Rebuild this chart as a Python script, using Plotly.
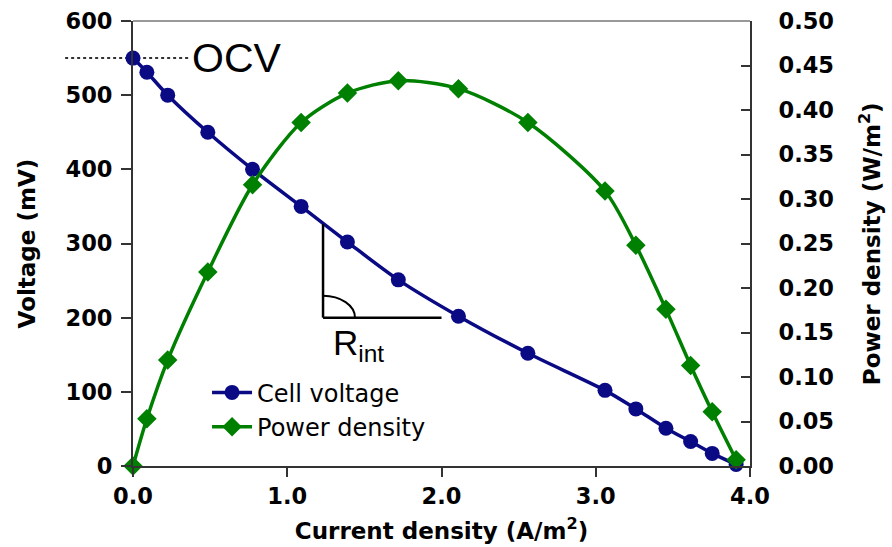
import plotly.graph_objects as go

# ---- data ----
current = [0.0, 0.09, 0.225, 0.485, 0.775, 1.09, 1.39, 1.72, 2.11, 2.56, 3.06, 3.26, 3.455, 3.615, 3.755, 3.91]
voltage_mV = [550, 531, 500, 450, 400, 350, 302, 251, 202, 152, 102, 77, 51, 33, 17, 2]
power_Wm2 = [0.0, 0.053, 0.119, 0.218, 0.316, 0.386, 0.419, 0.433, 0.424, 0.386, 0.309, 0.248, 0.176, 0.113, 0.061, 0.007]

x_ticks = [0, 1, 2, 3, 4]
y_ticks = [0, 100, 200, 300, 400, 500, 600]
y2_ticks = [round(i * 0.05, 2) for i in range(11)]

OCV_mV = 550
X_RANGE = [0, 4]
Y_RANGE = [0, 600]
Y2_RANGE = [0, 0.5]

# R_int triangle (annotation)
tri_x0, tri_x1 = 1.232, 2.0
tri_y0, tri_y1 = 200, 326

NAVY = "#0a0a84"
GREEN = "#008000"
FONT = "DejaVu Sans"

fig = go.Figure()

fig.add_trace(go.Scatter(
    x=current, y=voltage_mV, name="Cell voltage", mode="lines+markers",
    line=dict(color=NAVY, width=3.5, shape="spline", smoothing=0.8),
    marker=dict(symbol="circle", size=15, color=NAVY),
    cliponaxis=False, yaxis="y"))

fig.add_trace(go.Scatter(
    x=current, y=power_Wm2, name="Power density", mode="lines+markers",
    line=dict(color=GREEN, width=3.5, shape="spline", smoothing=0.8),
    marker=dict(symbol="diamond", size=15, color=GREEN),
    cliponaxis=False, yaxis="y2"))

tickfont = dict(family=FONT, size=22.5, color="black", weight="bold")
titlefont = dict(family=FONT, size=23, color="black", weight="bold")

fig.update_layout(
    width=892, height=547,
    margin=dict(l=133, r=142, t=21, b=81),
    paper_bgcolor="white", plot_bgcolor="white",
    showlegend=True,
    legend=dict(x=0.12, y=0.215, xanchor="left", yanchor="top",
                bgcolor="rgba(0,0,0,0)",
                font=dict(family=FONT, size=24, color="black"),
                itemwidth=40),
    xaxis=dict(range=X_RANGE, tickvals=x_ticks, tickformat=".1f",
               ticks="outside", ticklen=9, tickwidth=1.5, tickcolor="#333",
               showline=True, linecolor="#333", linewidth=2, automargin=False,
               showgrid=False, zeroline=False, tickfont=tickfont,
               title=dict(text="Current density (A/m<sup>2</sup>)", font=titlefont)),
    yaxis=dict(range=Y_RANGE, tickvals=y_ticks,
               ticks="outside", ticklen=10, tickwidth=1.5, tickcolor="#333",
               showline=True, linecolor="#333", linewidth=2, automargin=False,
               showgrid=False, zeroline=False, tickfont=tickfont,
               ticklabelstandoff=4),
    yaxis2=dict(range=Y2_RANGE, tickvals=y2_ticks, tickformat=".2f",
                overlaying="y", side="right",
                ticks="inside", ticklen=9, tickwidth=1.5, tickcolor="#333",
                showline=True, linecolor="#333", linewidth=2, automargin=False,
                showgrid=False, zeroline=False, tickfont=tickfont,
                ticklabelstandoff=22),
)

# y-axis titles placed as rotated annotations
fig.add_annotation(x=-0.172, y=0.5, xref="paper", yref="paper", text="Voltage (mV)",
                   textangle=-90, showarrow=False, xanchor="center", yanchor="middle",
                   font=titlefont)
fig.add_annotation(x=1.194, y=0.5, xref="paper", yref="paper",
                   text="Power density (W/m<sup>2</sup>)",
                   textangle=-90, showarrow=False, xanchor="center", yanchor="middle",
                   font=titlefont)

# gray top border
fig.add_shape(type="line", xref="paper", yref="paper", x0=0, x1=1, y0=1, y1=1,
              line=dict(color="#999999", width=2), layer="below")

# OCV dotted line
ocv_p = OCV_mV / Y_RANGE[1]
fig.add_shape(type="line", xref="paper", yref="paper", x0=-0.11, x1=0.093,
              y0=ocv_p, y1=ocv_p, line=dict(color="#333", width=2, dash="dot"),
              layer="below")
fig.add_annotation(x=0.093, y=ocv_p, xref="paper", yref="paper", text="OCV",
                   showarrow=False, xanchor="left", yanchor="middle",
                   font=dict(family="Liberation Sans", size=41, color="black"))

# R_int triangle
fig.add_shape(type="line", xref="x", yref="y", x0=tri_x0, x1=tri_x0, y0=tri_y0, y1=tri_y1,
              line=dict(color="black", width=2.5))
fig.add_shape(type="line", xref="x", yref="y", x0=tri_x0, x1=tri_x1, y0=tri_y0, y1=tri_y0,
              line=dict(color="black", width=2.5))
rx, ry, k = 0.207, 29.5, 0.5523
arc = (f"M {tri_x0 + rx},{tri_y0} "
       f"C {tri_x0 + rx},{tri_y0 + k * ry} {tri_x0 + k * rx},{tri_y0 + ry} {tri_x0},{tri_y0 + ry}")
fig.add_shape(type="path", xref="x", yref="y", path=arc, line=dict(color="black", width=2))
fig.add_annotation(x=tri_x0 + 0.05, y=tri_y0 - 4, xref="x", yref="y",
                   text="R<sub>int</sub>", showarrow=False, xanchor="left", yanchor="top",
                   font=dict(family="Liberation Sans", size=35, color="black"))

fig.write_html("out.html")
